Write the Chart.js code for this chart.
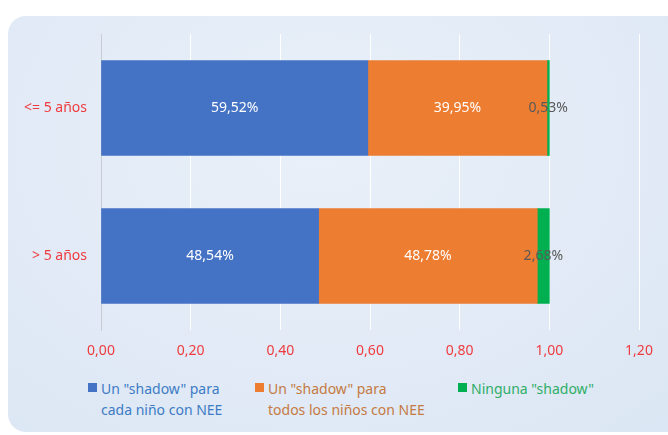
<!DOCTYPE html>
<html>
<head>
<meta charset="utf-8">
<script src="https://cdn.jsdelivr.net/npm/chart.js@4"></script>
<style>
  html, body { margin: 0; padding: 0; background: #fff; overflow: hidden; }
  #wrap { position: relative; width: 668px; height: 435px; }
  #panel {
    position: absolute; left: 8px; top: 16px; width: 690px; height: 416px;
    border-radius: 18px;
    background: radial-gradient(ellipse at 45% 30%, #e9f0f9 0%, #e1eaf6 60%, #dbe6f4 100%);
  }
  #chart { position: absolute; left: 0; top: 0; }
  .leg { position: absolute; font-family: "Noto Sans", sans-serif; font-size: 14px; line-height: 21px; white-space: nowrap; }
  .leg i { position: absolute; left: -13px; top: 5px; width: 9px; height: 9px; }
</style>
</head>
<body>
<div id="wrap">
  <div id="panel"></div>
  <canvas id="chart" width="668" height="370"></canvas>
  <div class="leg" style="left:101px; top:378px; color:#3d7cc4"><i style="background:#4472c4"></i>Un "shadow" para<br>cada niño con NEE</div>
  <div class="leg" style="left:268px; top:378px; color:#c57a43"><i style="background:#ed7d31"></i>Un "shadow" para<br>todos los niños con NEE</div>
  <div class="leg" style="left:471px; top:378px; color:#2fae67"><i style="background:#00b050"></i>Ninguna "shadow"</div>
</div>
<script>
// ── Data ─────────────────────────────────────────────────────
const categories = ["<= 5 años", "> 5 años"];
const seriesNames = ['Un "shadow" para cada niño con NEE', 'Un "shadow" para todos los niños con NEE', 'Ninguna "shadow"'];
const cadaNino   = [0.5952, 0.4854];
const todosNinos = [0.3995, 0.4878];
const ninguna    = [0.0053, 0.0268];

const fmtPct = v => (v * 100).toFixed(2).replace(".", ",") + "%";

// ── Bar value labels ─────────────────────────────────────────
const barLabels = {
    id: "barLabels",
    afterDatasetsDraw(chart) {
        const ctx = chart.ctx;
        ctx.save();
        ctx.font = "14px 'Noto Sans', sans-serif";
        ctx.textAlign = "center";
        ctx.textBaseline = "middle";
        chart.data.datasets.forEach((ds, i) => {
            chart.getDatasetMeta(i).data.forEach((el, j) => {
                ctx.fillStyle = ds.labelColor;
                ctx.fillText(fmtPct(ds.data[j]), (el.x + el.base) / 2, el.y);
            });
        });
        ctx.restore();
    }
};

new Chart(document.getElementById("chart"), {
    type: "bar",
    data: {
        labels: categories,
        datasets: [
            { label: seriesNames[0], data: cadaNino,   backgroundColor: "#4472c4", labelColor: "#ffffff" },
            { label: seriesNames[1], data: todosNinos, backgroundColor: "#ed7d31", labelColor: "#ffffff" },
            { label: seriesNames[2], data: ninguna,    backgroundColor: "#00b050", labelColor: "#595959" }
        ]
    },
    options: {
        indexAxis: "y",
        responsive: false,
        animation: false,
        layout: { padding: { top: 34, right: 29, left: 0, bottom: 0 } },
        datasets: { bar: { barThickness: 95 } },
        plugins: { legend: { display: false }, tooltip: { enabled: false } },
        scales: {
            x: {
                stacked: true, min: 0, max: 1.2,
                ticks: {
                    stepSize: 0.2, color: "#ef3b3f", padding: 13,
                    font: { family: "'Noto Sans', sans-serif", size: 14 },
                    callback: v => v.toFixed(2).replace(".", ",")
                },
                grid: { color: "#ffffff", lineWidth: 1, drawTicks: false },
                border: { display: false },
                afterFit: s => { s.height = 40; }
            },
            y: {
                stacked: true,
                ticks: { color: "#ef3b3f", padding: 6, font: { family: "'Noto Sans', sans-serif", size: 14 } },
                grid: { display: false },
                border: { color: "#c9cdd3" },
                afterFit: s => { s.width = 101; }
            }
        }
    },
    plugins: [barLabels]
});
</script>
</body>
</html>
